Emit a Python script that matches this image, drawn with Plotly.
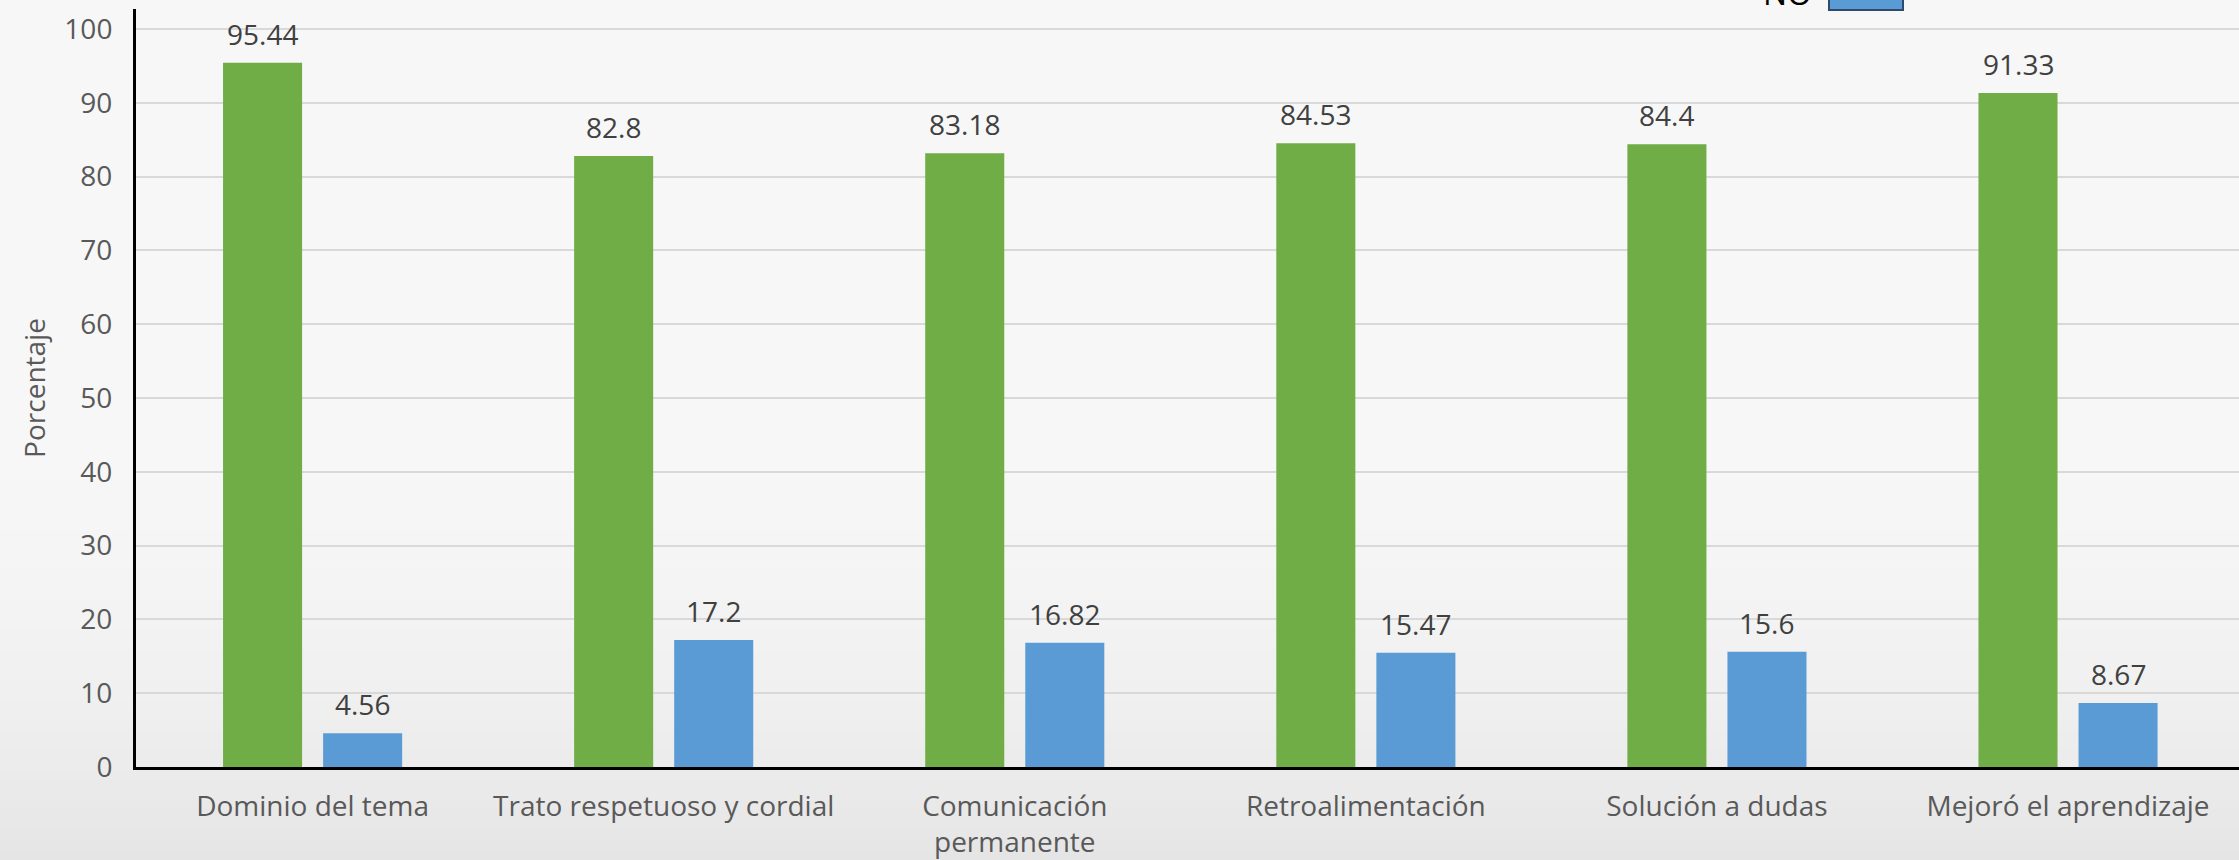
import plotly.graph_objects as go

categories = ["Dominio del tema", "Trato respetuoso y cordial", "Comunicación<br>permanente",
              "Retroalimentación", "Solución a dudas", "Mejoró el aprendizaje"]
si_values = [95.44, 82.8, 83.18, 84.53, 84.4, 91.33]
no_values = [4.56, 17.2, 16.82, 15.47, 15.6, 8.67]
y_ticks = [0, 10, 20, 30, 40, 50, 60, 70, 80, 90, 100]

GREEN = "#70ad47"
BLUE = "#5b9bd5"
FONT = "Open Sans"

W, H = 2239, 860
ML, MR, MT, MB = 136, 0, 9, 93
PH = H - MT - MB
PW = W - ML - MR

fig = go.Figure()
fig.add_trace(go.Bar(name="SI", x=categories, y=si_values, marker=dict(color=GREEN, line=dict(width=0))))
fig.add_trace(go.Bar(name="NO", x=categories, y=no_values, marker=dict(color=BLUE, line=dict(width=0))))

annotations = []
for vals, shift in ((si_values, -50), (no_values, 50)):
    for c, v in zip(categories, vals):
        annotations.append(dict(x=c, y=v, xref="x", yref="y", text=f"{v:g}", showarrow=False,
                                xanchor="center", yanchor="bottom", xshift=shift, yshift=8,
                                font=dict(family=FONT, size=28, color="#404040")))

# partial legend entry visible at the top edge
def px_to_paper_x(px):
    return (px - ML) / PW

def px_to_paper_y(py):
    return (H - MB - py) / PH

annotations.append(dict(x=px_to_paper_x(1814), y=px_to_paper_y(16), xref="paper", yref="paper",
                        text="NO", showarrow=False, xanchor="right", yanchor="bottom",
                        font=dict(family=FONT, size=32, color="#000000")))

shapes = []
# vertical background gradient
n = 86
for i in range(n):
    p0 = i * H / n
    p1 = (i + 1) * H / n
    t = max(0.0, ((p0 + p1) / 2 - 400) / 460)
    g = int(round(247 - 18 * t * t))
    shapes.append(dict(type="rect", xref="paper", yref="paper", layer="below",
                       x0=px_to_paper_x(-5), x1=px_to_paper_x(W + 5),
                       y0=px_to_paper_y(p1 + 0.5), y1=px_to_paper_y(p0 - 0.5),
                       line=dict(width=0), fillcolor=f"rgb({g},{g},{g})"))
shapes.append(dict(type="rect", xref="paper", yref="paper", layer="above",
                   x0=px_to_paper_x(1829), x1=px_to_paper_x(1903),
                   y0=px_to_paper_y(10), y1=px_to_paper_y(-30),
                   line=dict(width=2, color="#2f4b6c"), fillcolor=BLUE))

fig.update_layout(
    width=W, height=H,
    margin=dict(l=ML, r=MR, t=MT, b=MB, autoexpand=False),
    paper_bgcolor="#f7f7f7", plot_bgcolor="rgba(0,0,0,0)",
    barmode="group", bargap=0.43, bargroupgap=0.21,
    showlegend=False,
    font=dict(family=FONT, size=28, color="#595959"),
    annotations=annotations, shapes=shapes,
)
fig.update_xaxes(showgrid=False, showline=True, linecolor="#000000", linewidth=3,
                 ticks="", tickfont=dict(family=FONT, size=28, color="#595959"),
                 ticklabelstandoff=12, range=[-0.503, 5.487], fixedrange=True)
fig.update_yaxes(range=[0, (H - MB - MT) / 7.38], tickvals=y_ticks, showgrid=True,
                 gridcolor="#d9d9d9", gridwidth=2, zeroline=False,
                 showline=True, linecolor="#000000", linewidth=3, ticks="",
                 tickfont=dict(family=FONT, size=28, color="#595959"), ticklabelstandoff=15,
                 title=dict(text="Porcentaje", font=dict(family=FONT, size=28, color="#595959"), standoff=11))

fig.write_html("out.html", config={"displayModeBar": False},
               post_script="document.body.style.margin='0';document.body.style.overflow='hidden';")
